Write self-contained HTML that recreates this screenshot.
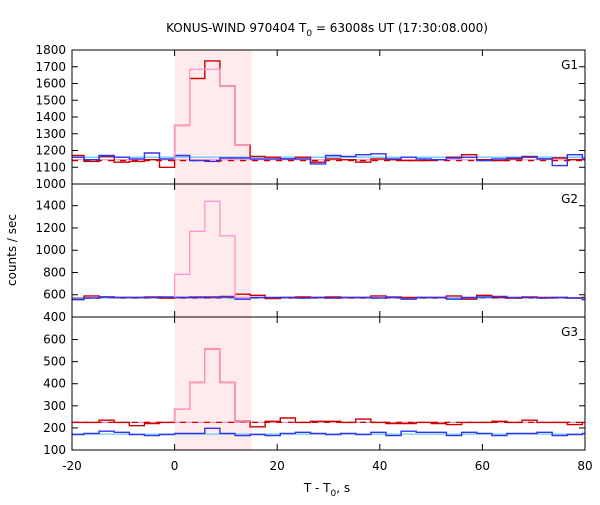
<!DOCTYPE html>
<html><head><meta charset="utf-8"><style>
body{margin:0;background:#fff;}
svg text{font-family:"DejaVu Sans","Liberation Sans",sans-serif;font-size:12px;fill:#000;}
</style></head><body>
<svg id="chart" width="600" height="500" viewBox="0 0 600 500" xmlns="http://www.w3.org/2000/svg">
<text x="327" y="32" text-anchor="middle">KONUS-WIND 970404 T<tspan dy="4" font-size="9">0</tspan><tspan dy="-4"> = 63008s UT (17:30:08.000)</tspan></text>
<text x="16" y="250" text-anchor="middle" transform="rotate(-90 16 250)">counts / sec</text>
<text x="327" y="492" text-anchor="middle">T - T<tspan dy="4" font-size="9">0</tspan><tspan dy="-4">, s</tspan></text>
<g id="plots"></g>
</svg>
<script>
// bin index k from -7 to 27, bin width 2.944 s
const binWidth = 2.944;
const firstBin = -7;
const xTicks = [-20, 0, 20, 40, 60, 80];
const shadeRange = [0, 15];
const panelNames = ["G1", "G2", "G3"];
const g1Ticks = [1000,1100,1200,1300,1400,1500,1600,1700,1800];
const g2Ticks = [400,600,800,1000,1200,1400];
const g3Ticks = [100,200,300,400,500,600];
const g1Red = [1171,1135,1165,1130,1135,1145,1100,1350,1630,1735,1585,1233,1165,1160,1150,1160,1130,1150,1145,1130,1150,1145,1140,1140,1145,1160,1175,1145,1140,1150,1160,1150,1155,1145,1150];
const g1Blue = [1160,1145,1170,1160,1150,1185,1150,1170,1140,1135,1155,1155,1150,1150,1150,1150,1120,1170,1165,1175,1180,1150,1160,1150,1145,1155,1160,1140,1150,1155,1165,1150,1110,1175,1145];
const g1Pink = [1350,1685,1685,1585,1233];
const g2Red = [560,590,580,575,575,580,570,575,575,580,580,605,595,565,575,580,575,580,575,575,590,575,575,575,575,590,560,595,575,570,580,575,575,570,575];
const g2Blue = [555,570,580,575,575,575,580,575,580,575,585,560,575,575,575,570,575,570,575,575,570,580,560,575,575,560,575,580,585,575,575,570,575,570,555];
const g2Pink = [784,1170,1440,1130,575];
const g3Red = [225,225,235,225,210,220,225,284,406,557,406,230,205,230,245,225,230,230,225,240,225,220,220,225,220,215,225,225,230,225,235,225,225,215,225];
const g3Blue = [170,175,185,180,170,165,170,175,175,198,175,165,170,165,175,180,175,170,175,170,180,165,185,180,180,165,180,175,165,175,175,180,165,170,175];
const g3Pink = [284,406,557,406,227];
const bgRed = [1140, 570, 225];
const bgCyan = [1160, 572, 172];
const bgPink = [1145, 575, 225];

const panels = [
  {name:"G1", top:50, bot:184, ymin:1000, ymax:1800, ticks:g1Ticks, red:g1Red, blue:g1Blue, pink:g1Pink},
  {name:"G2", top:184, bot:317, ymin:400, ymax:1595, ticks:g2Ticks, red:g2Red, blue:g2Blue, pink:g2Pink},
  {name:"G3", top:317, bot:450, ymin:100, ymax:702, ticks:g3Ticks, red:g3Red, blue:g3Blue, pink:g3Pink}
];
const X0 = 72, X1 = 585, XMIN = -20, XMAX = 80;
const xs = v => X0 + (v - XMIN) / (XMAX - XMIN) * (X1 - X0);
const NS = "http://www.w3.org/2000/svg";
const root = document.getElementById("plots");
function mk(tag, attrs, parent) {
  const e = document.createElementNS(NS, tag);
  for (const k in attrs) e.setAttribute(k, attrs[k]);
  (parent || root).appendChild(e);
  return e;
}
function clampX(v){return Math.max(XMIN, Math.min(XMAX, v));}
function histPath(vals, startK, ys) {
  let d = "";
  vals.forEach((v, i) => {
    const a = clampX((startK + i) * binWidth), b = clampX((startK + i + 1) * binWidth);
    if (a >= b) return;
    const y = ys(v).toFixed(1);
    d += (d ? "L" : "M") + xs(a).toFixed(1) + "," + y + "L" + xs(b).toFixed(1) + "," + y;
  });
  return d;
}
panels.forEach((p, pi) => {
  const ys = v => p.bot - (v - p.ymin) / (p.ymax - p.ymin) * (p.bot - p.top);
  const g = mk("g", {});
  
  
  const clip = mk("clipPath", {id: "clip" + pi}, g);
  mk("rect", {x: X0, y: p.top, width: X1 - X0, height: p.bot - p.top}, clip);
  const sh = mk("rect", {x: xs(shadeRange[0]), y: p.top, width: xs(shadeRange[1]) - xs(shadeRange[0]), height: p.bot - p.top, fill: "#ffebeb"}, g);
  
  
  const inner = mk("g", {"clip-path": "url(#clip" + pi + ")"}, g);
  const l1 = mk("line", {x1: X0, x2: X1, y1: ys(bgPink[pi]), y2: ys(bgPink[pi]), stroke: "#ff99cc", "stroke-width": 1.3}, inner);
  
  
  const l2 = mk("line", {x1: X0, x2: X1, y1: ys(bgRed[pi]), y2: ys(bgRed[pi]), stroke: "#cc0000", "stroke-width": 1.3, "stroke-dasharray": "6,6"}, inner);
  
  
  const l3 = mk("line", {x1: X0, x2: X1, y1: ys(bgCyan[pi]), y2: ys(bgCyan[pi]), stroke: "#66ccff", "stroke-width": 1.3}, inner);
  
  
  const hr = mk("path", {d: histPath(p.red, firstBin, ys), fill: "none", stroke: "#cc0000", "stroke-width": 1.4}, inner);
  
  
  const hb = mk("path", {d: histPath(p.blue, firstBin, ys), fill: "none", stroke: "#3333ee", "stroke-width": 1.4}, inner);
  
  
  let pd = "M" + xs(0) + "," + ys(bgPink[pi]).toFixed(1) + histPath(p.pink, 0, ys).replace(/^M/, "L");
  const hp = mk("path", {d: pd, fill: "none", stroke: "#ff99cc", "stroke-width": 1.4}, inner);
  
  
  const fr = mk("rect", {x: X0, y: p.top, width: X1 - X0, height: p.bot - p.top, fill: "none", stroke: "#000", "stroke-width": 1}, g);
  
  
  xTicks.forEach(t => {
    const x = xs(t);
    mk("line", {x1: x, x2: x, y1: p.bot, y2: p.bot - 6, stroke: "#000"}, g);
    mk("line", {x1: x, x2: x, y1: p.top, y2: p.top + 6, stroke: "#000"}, g);
  });
  p.ticks.forEach(t => {
    const y = ys(t);
    mk("line", {x1: X0, x2: X0 + 6, y1: y, y2: y, stroke: "#000"}, g);
    mk("line", {x1: X1, x2: X1 - 6, y1: y, y2: y, stroke: "#000"}, g);
    const tl = mk("text", {x: X0 - 6, y: y + 4, "text-anchor": "end"}, g);
    tl.textContent = t;
    
    
  });
  const nl = mk("text", {x: X1 - 7, y: p.top + 19, "text-anchor": "end"}, g);
  nl.textContent = p.name;
  
  
});
xTicks.forEach(t => {
  const tl = mk("text", {x: xs(t), y: 470, "text-anchor": "middle"});
  tl.textContent = t;
  
  
});
</script>
</body></html>
